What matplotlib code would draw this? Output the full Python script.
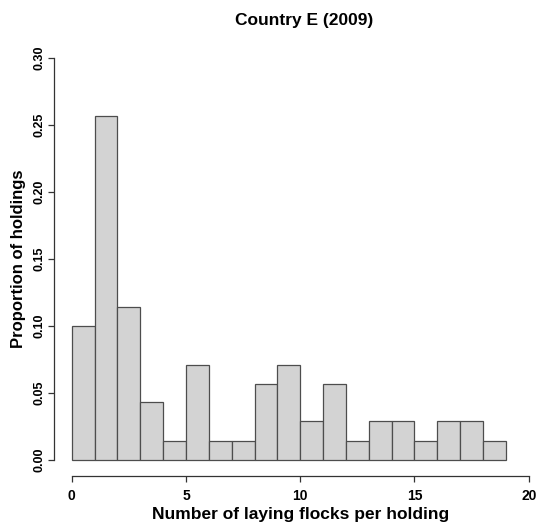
import matplotlib
matplotlib.use('Agg')
import matplotlib.pyplot as plt
import numpy as np

plt.rcParams['font.family'] = ['Liberation Sans', 'DejaVu Sans']

# ── Data ──────────────────────────────────────────────────────────────────────
bin_edges = list(range(0, 20))          # left edge of each unit-wide bin
proportions = [0.100, 0.257, 0.114, 0.043, 0.014, 0.071, 0.014, 0.014,
               0.057, 0.071, 0.029, 0.057, 0.014, 0.029, 0.029, 0.014,
               0.029, 0.029, 0.014]
x_ticks = [0, 5, 10, 15, 20]
y_ticks = [0.00, 0.05, 0.10, 0.15, 0.20, 0.25, 0.30]

W, H = 536, 522
fig = plt.figure(figsize=(W / 100, H / 100), dpi=100)
# R-style plot region: 4% padding beyond the data limits on each side
ax = fig.add_axes([53.5 / W, 46 / H, (547 - 53.5) / W, (476 - 42) / H])

ax.bar(bin_edges[:len(proportions)], proportions, width=1, align='edge',
       color='#d3d3d3', edgecolor='#4d4d4d', linewidth=0.9)

ax.set_xlim(-0.8, 20.8)
ax.set_ylim(-0.012, 0.312)

for s in ('top', 'right'):
    ax.spines[s].set_visible(False)
ax.spines['left'].set_bounds(0, 0.30)
ax.spines['bottom'].set_bounds(0, 20)
for s in ('left', 'bottom'):
    ax.spines[s].set_color('#333333')
    ax.spines[s].set_linewidth(0.9)

ax.set_xticks(x_ticks)
ax.set_xticklabels([str(v) for v in x_ticks], fontsize=10, fontweight='bold')
ax.set_yticks(y_ticks)
ax.set_yticklabels([f'{v:.2f}' for v in y_ticks], fontsize=9,
                   fontweight='bold', rotation=90, va='center')
ax.tick_params(axis='both', direction='out', length=4, width=0.9,
               color='#333333')
ax.tick_params(axis='x', pad=5)
ax.tick_params(axis='y', pad=2)

ax.set_xlabel('Number of laying flocks per holding', fontsize=12.5,
              fontweight='bold', labelpad=3)
ax.set_ylabel('Proportion of holdings', fontsize=12, fontweight='bold',
              labelpad=5)
fig.text(304 / W, 1 - 21 / H, 'Country E (2009)', ha='center', va='center',
         fontsize=12.5, fontweight='bold')

fig.savefig('out.png', dpi=100)
